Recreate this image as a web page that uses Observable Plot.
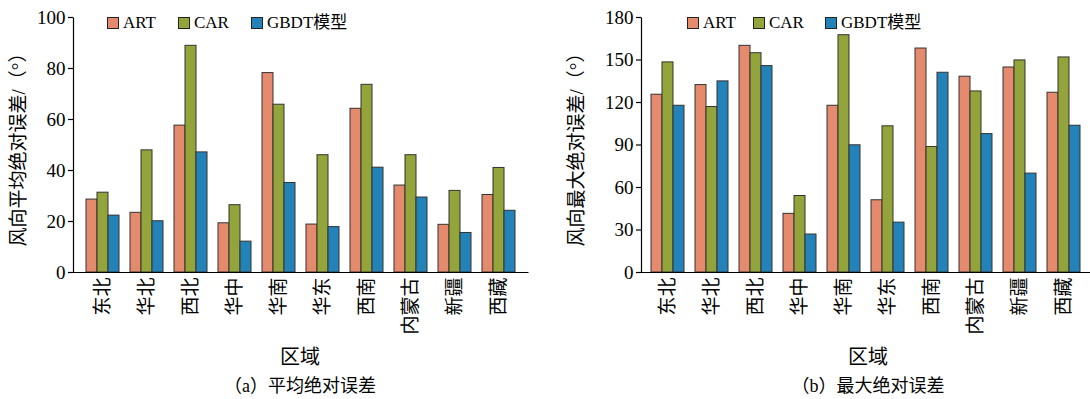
<!DOCTYPE html>
<html><head><meta charset="utf-8">
<script src="https://cdn.jsdelivr.net/npm/d3@7"></script>
<script src="https://cdn.jsdelivr.net/npm/@observablehq/plot@0.6"></script>
<style>
body{margin:0;background:#fff;font-family:"Liberation Serif","Noto Sans CJK SC",serif;color:#000;}
#wrap{position:relative;width:1090px;height:399px;overflow:hidden;}
.panel{position:absolute;top:0;width:545px;height:399px;}
.panel svg{position:absolute;left:0;top:0;overflow:visible;}
.panel svg text{font-family:"Liberation Serif","Noto Sans CJK SC",serif !important;}
.item{position:absolute;top:14px;display:flex;align-items:center;font-size:17px;line-height:17px;white-space:nowrap;}
.sw{display:inline-block;width:10px;height:10px;border:1px solid #222;margin-right:4px;}
.xlab{position:absolute;top:345px;left:0;font-size:20px;line-height:24px;text-align:center;}
.cap{position:absolute;top:374px;left:0;font-size:18px;line-height:24px;text-align:center;}
</style></head>
<body><div id="wrap"></div>
<script>
const regions = ["东北","华北","西北","华中","华南","华东","西南","内蒙古","新疆","西藏"];
const seriesNames = ["ART","CAR","GBDT模型"];
const seriesColors = ["#E58A6D","#93A43A","#2382B8"];
const meanArt  = [28.6,23.4,57.6,19.3,78.2,18.8,64.2,34.1,18.7,30.4];
const meanCar  = [31.3,47.9,88.9,26.4,65.8,46.0,73.6,46.0,32.0,41.0];
const meanGbdt = [22.3,20.1,47.1,12.1,35.1,17.8,41.1,29.4,15.5,24.2];
const maxArt   = [125.5,132.3,160.0,41.4,117.7,51.0,158.1,138.2,144.7,126.9];
const maxCar   = [148.3,116.8,154.8,54.0,167.5,103.2,88.6,127.8,149.7,151.8];
const maxGbdt  = [117.7,134.9,145.7,26.8,89.8,35.2,141.0,97.7,69.8,103.6];
const meanTicks = [0,20,40,60,80,100];
const maxTicks = [0,30,60,90,120,150,180];

const FONT = '"Liberation Serif","Noto Sans CJK SC",serif';
const key = (r, s) => r + "|" + s;

function makePanel(cfg) {
  const W = 545, H = 345, MT = 17, MB = 73;
  const panel = document.createElement("div");
  panel.className = "panel";
  panel.style.left = cfg.left + "px";
  const seriesVals = [cfg.art, cfg.car, cfg.gbdt];
  const table = regions.flatMap((r, i) => seriesNames.map((s, j) => ({key: key(r, s), series: s, value: seriesVals[j][i]})));
  const domain = regions.flatMap((r, i) => [...seriesNames.map(s => key(r, s)), ...(i < regions.length - 1 ? [key(r, "gap")] : [])]);
  const fw = W - cfg.marginLeft - cfg.marginRight, fh = H - MT - MB;
  const chart = Plot.plot({
    width: W, height: H,
    marginTop: MT, marginBottom: MB, marginLeft: cfg.marginLeft, marginRight: cfg.marginRight,
    style: {fontFamily: FONT, fontSize: "19px", color: "#000", background: "transparent", overflow: "visible"},
    x: {domain, paddingInner: 0, paddingOuter: 0.5, axis: null},
    y: {domain: [0, cfg.ymax], axis: null},
    color: {domain: seriesNames, range: seriesColors},
    marks: [
      Plot.barY(table, {x: "key", y: "value", fill: "series", stroke: "#333", strokeWidth: 1}),
      Plot.frame({stroke: "#000", strokeWidth: 1.2, strokeDasharray: `0 ${fw + fh} ${fw + fh}`}),
      Plot.axisY({ticks: cfg.ticks, tickSize: 5, tickPadding: 3, stroke: "#000", strokeWidth: 1.2,
        label: cfg.ylabel, labelAnchor: "center", labelOffset: cfg.labelOffset, labelArrow: "none", fontSize: 19}),
      Plot.axisX({ticks: regions.map(r => key(r, "CAR")), tickFormat: k => k.split("|")[0],
        tickRotate: -90, tickSize: 0, tickPadding: 5, label: null, fontSize: 19})
    ]
  });
  panel.appendChild(chart);
  seriesNames.forEach((s, j) => {
    const it = document.createElement("div");
    it.className = "item";
    it.style.left = (cfg.legendX[j] - cfg.left) + "px";
    const sw = document.createElement("span");
    sw.className = "sw";
    sw.style.background = seriesColors[j];
    it.appendChild(sw);
    it.appendChild(document.createTextNode(s));
    panel.appendChild(it);
  });
  const xl = document.createElement("div");
  xl.className = "xlab";
  xl.style.width = (2 * cfg.center) + "px";
  xl.textContent = "区域";
  panel.appendChild(xl);
  const cap = document.createElement("div");
  cap.className = "cap";
  cap.style.width = (2 * cfg.center) + "px";
  cap.textContent = cfg.caption;
  panel.appendChild(cap);
  document.getElementById("wrap").appendChild(panel);
}

makePanel({left: 0, art: meanArt, car: meanCar, gbdt: meanGbdt, ymax: 100, ticks: meanTicks,
  ylabel: "风向平均绝对误差/（°）", marginLeft: 73, marginRight: 17, labelOffset: 62,
  legendX: [107, 178, 251], center: 300, caption: "（a）平均绝对误差"});
makePanel({left: 545, art: maxArt, car: maxCar, gbdt: maxGbdt, ymax: 180, ticks: maxTicks,
  ylabel: "风向最大绝对误差/（°）", marginLeft: 96, marginRight: 0, labelOffset: 72,
  legendX: [687, 753, 825], center: 323, caption: "（b）最大绝对误差"});
</script></body></html>
